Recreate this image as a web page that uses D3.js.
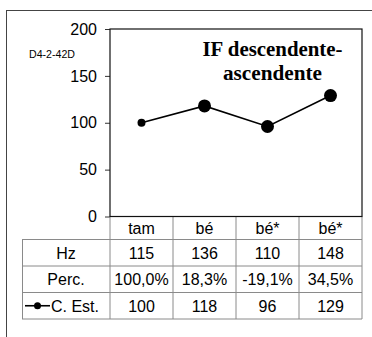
<!DOCTYPE html>
<html>
<head>
<meta charset="utf-8">
<script src="https://cdn.jsdelivr.net/npm/d3@7"></script>
<style>
  body { margin: 0; background: #fff; }
  svg { display: block; }
  text { font-family: "Liberation Sans", Arial, sans-serif; fill: #000; }
</style>
</head>
<body>
<svg id="chart"></svg>
<script>
var width = 372;
var height = 337;

// data
var categories = ["tam", "bé", "bé*", "bé*"];
var hzValues = [115, 136, 110, 148];
var percValues = [100.0, 18.3, -19.1, 34.5];
var estValues = [100, 118, 96, 129];
var yTicks = [0, 50, 100, 150, 200];
var rowLabels = ["Hz", "Perc.", "C. Est."];
var speakerId = "D4-2-42D";
var titleLines = ["IF descendente-", "ascendente"];

var plot = {left: 110, right: 362, top: 29, bottom: 216.5};
var tableLeft = 22;
var rowEdges = [216.5, 239.5, 266, 292.5, 319];
var fontSize = 16;

var locale = d3.formatLocale({decimal: ",", thousands: ".", grouping: [3], currency: ["", ""], minus: "-"});
var fmtPerc = function (v) { return locale.format(".1f")(v) + "%"; };

var svg = d3.select("#chart").attr("width", width).attr("height", height);

svg.append("rect").attr("width", width).attr("height", height).attr("fill", "#fff");

// outer frame, runs off the right and bottom edge
svg.append("rect")
    .attr("x", 6.5).attr("y", 10.5)
    .attr("width", 400).attr("height", 400)
    .attr("fill", "none").attr("stroke", "#444").attr("stroke-width", 1);

var x = d3.scaleBand()
    .domain(d3.range(categories.length))
    .range([plot.left, plot.right])
    .padding(0);

var y = d3.scaleLinear()
    .domain([0, 200])
    .range([plot.bottom, plot.top]);

// y axis
var yAxis = d3.axisLeft(y).tickValues(yTicks).tickSize(5).tickPadding(8);
var gy = svg.append("g")
    .attr("transform", "translate(" + plot.left + ",0)")
    .call(yAxis);
gy.select(".domain").remove();
gy.selectAll(".tick line").attr("stroke", "#333");
gy.selectAll(".tick text")
    .attr("font-family", "Liberation Sans, Arial, sans-serif")
    .attr("font-size", fontSize)
    .attr("fill", "#000");

// table grid
var grid = svg.append("g").attr("stroke", "#8a8a8a").attr("stroke-width", 1).attr("fill", "none");
rowEdges.slice(1).forEach(function (ry) {
    grid.append("line").attr("x1", tableLeft).attr("x2", plot.right)
        .attr("y1", ry).attr("y2", ry);
});
d3.range(categories.length + 1).forEach(function (i) {
    var cx = plot.left + i * x.bandwidth();
    grid.append("line").attr("x1", cx).attr("x2", cx)
        .attr("y1", rowEdges[0]).attr("y2", rowEdges[4]);
});
grid.append("line").attr("x1", tableLeft + 0.5).attr("x2", tableLeft + 0.5)
    .attr("y1", rowEdges[1]).attr("y2", rowEdges[4]);

// plot area border
svg.append("rect")
    .attr("x", plot.left).attr("y", plot.top)
    .attr("width", plot.right - plot.left).attr("height", plot.bottom - plot.top)
    .attr("fill", "none").attr("stroke", "#111").attr("stroke-width", 1.2);

// line + markers
var line = d3.line()
    .x(function (d, i) { return x(i) + x.bandwidth() / 2; })
    .y(function (d) { return y(d); });

svg.append("path")
    .datum(estValues)
    .attr("d", line)
    .attr("fill", "none")
    .attr("stroke", "#000")
    .attr("stroke-width", 1.6);

svg.selectAll("circle.pt")
    .data(estValues)
    .enter()
    .append("circle")
    .attr("class", "pt")
    .attr("cx", function (d, i) { return x(i) + x.bandwidth() / 2; })
    .attr("cy", function (d) { return y(d); })
    .attr("r", function (d, i) { return i === 0 ? 4 : 6.5; })  // reference syllable drawn small
    .attr("fill", "#000");

// title
var titleWidths = [140, 99];
svg.append("g").selectAll("text")
    .data(titleLines)
    .enter()
    .append("text")
    .attr("x", 272.5)
    .attr("y", function (d, i) { return 56 + i * 24; })
    .attr("text-anchor", "middle")
    .attr("textLength", function (d, i) { return titleWidths[i]; })
    .attr("lengthAdjust", "spacingAndGlyphs")
    .style("font-family", "'Liberation Serif', 'Times New Roman', serif")
    .style("font-weight", "bold")
    .style("font-size", "20px")
    .text(function (d) { return d; });

svg.append("text")
    .attr("x", 29).attr("y", 57.5)
    .attr("font-size", 11.5)
    .attr("textLength", 46)
    .attr("lengthAdjust", "spacingAndGlyphs")
    .text(speakerId);

// table text
var rows = [categories, hzValues, percValues.map(fmtPerc), estValues];
rows.forEach(function (vals, r) {
    var cy = (rowEdges[r] + rowEdges[r + 1]) / 2;
    svg.append("g").selectAll("text")
        .data(vals)
        .enter()
        .append("text")
        .attr("x", function (d, i) { return x(i) + x.bandwidth() / 2; })
        .attr("y", cy)
        .attr("dy", "0.36em")
        .attr("text-anchor", "middle")
        .attr("font-size", fontSize)
        .text(function (d) { return d; });
});

// row labels
rowLabels.forEach(function (lab, r) {
    var cy = (rowEdges[r + 1] + rowEdges[r + 2]) / 2;
    var isLegend = r === 2;
    svg.append("text")
        .attr("x", isLegend ? 51 : (tableLeft + plot.left) / 2)
        .attr("y", cy)
        .attr("dy", "0.36em")
        .attr("text-anchor", isLegend ? "start" : "middle")
        .attr("font-size", fontSize)
        .text(lab);
    if (isLegend) {
        svg.append("line").attr("x1", 25).attr("x2", 50)
            .attr("y1", cy).attr("y2", cy)
            .attr("stroke", "#000").attr("stroke-width", 1.6);
        svg.append("circle").attr("cx", 37.5).attr("cy", cy).attr("r", 3.5).attr("fill", "#000");
    }
});
</script>
</body>
</html>
